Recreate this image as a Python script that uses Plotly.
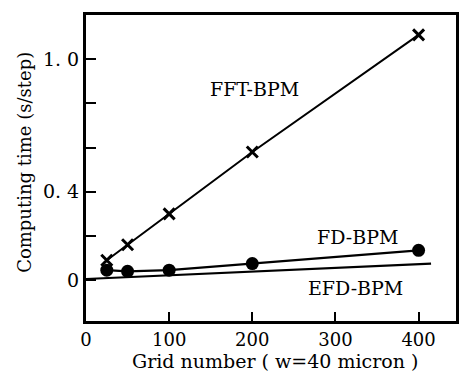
import plotly.graph_objects as go

# Data
fft_x = [25, 50, 100, 200, 400]
fft_y = [0.09, 0.16, 0.30, 0.58, 1.11]

fd_x = [25, 50, 100, 200, 400]
fd_y = [0.045, 0.040, 0.045, 0.075, 0.135]

efd_x = [0, 415]
efd_y = [0.005, 0.075]

x_tickvals = [0, 100, 200, 300, 400]
x_ticktext = ["0", "100", "200", "300", "400"]
y_tickvals = [0, 0.2, 0.4, 0.6, 0.8, 1.0]
y_ticktext = ["0", "", "0. 4", "", "", "1. 0"]

labels = ["FFT-BPM", "FD-BPM", "EFD-BPM"]
label_x = [203, 327, 324]
label_y = [0.865, 0.193, -0.036]

x_title = "Grid number ( w=40 micron )"
y_title = "Computing time (s/step)"

FONT = "DejaVu Serif"

fig = go.Figure()
fig.add_trace(go.Scatter(x=efd_x, y=efd_y, mode="lines",
                         line=dict(color="black", width=2.2), showlegend=False))
fig.add_trace(go.Scatter(x=fd_x, y=fd_y, mode="lines+markers",
                         line=dict(color="black", width=2.2),
                         marker=dict(symbol="circle", size=13, color="black"),
                         showlegend=False))
fig.add_trace(go.Scatter(x=fft_x, y=fft_y, mode="lines+markers",
                         line=dict(color="black", width=2),
                         marker=dict(symbol="x-thin", size=11,
                                     line=dict(color="black", width=3)),
                         showlegend=False))

for t, lx, ly in zip(labels, label_x, label_y):
    fig.add_annotation(x=lx, y=ly, text=t, showarrow=False,
                       font=dict(family=FONT, size=19, color="black"))

fig.add_annotation(xref="paper", yref="paper", x=0.51, y=-0.13,
                   xanchor="center", yanchor="middle", text=x_title,
                   showarrow=False, font=dict(family=FONT, size=19, color="black"))
fig.add_annotation(xref="paper", yref="paper", x=-0.165, y=0.52,
                   xanchor="center", yanchor="middle", text=y_title,
                   textangle=-90, showarrow=False,
                   font=dict(family=FONT, size=18, color="black"))

fig.update_xaxes(range=[0, 445], tickvals=x_tickvals, ticktext=x_ticktext,
                 ticks="inside", ticklen=9, tickwidth=2, tickcolor="black",
                 showline=True, linewidth=3, linecolor="black", mirror=True,
                 showgrid=False, zeroline=False,
                 tickfont=dict(family=FONT, size=18, color="black"))
fig.update_yaxes(range=[-0.185, 1.2], tickvals=y_tickvals, ticktext=y_ticktext,
                 ticks="inside", ticklen=10, tickwidth=2, tickcolor="black",
                 showline=True, linewidth=3, linecolor="black", mirror=True,
                 showgrid=False, zeroline=False,
                 tickfont=dict(family=FONT, size=19, color="black"))

fig.update_layout(width=471, height=373,
                  margin=dict(l=86, r=13, t=13, b=52),
                  plot_bgcolor="white", paper_bgcolor="white")

fig.write_html("out.html", config={"displayModeBar": False},
               post_script="document.body.style.margin='0';document.body.style.overflow='hidden';")
